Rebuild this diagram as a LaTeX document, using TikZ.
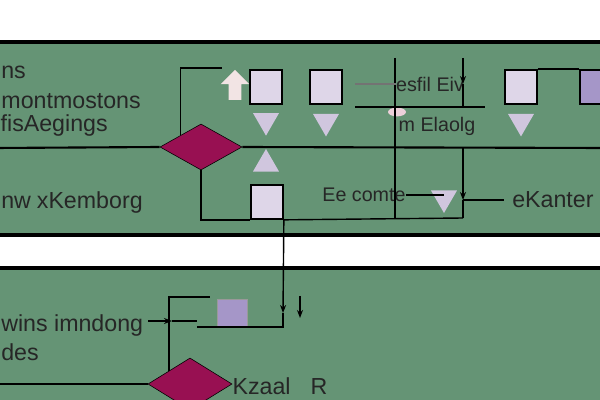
\documentclass[tikz,border=0pt]{standalone}
\usepackage{fontspec}
\setmainfont{Liberation Sans}
\usetikzlibrary{arrows.meta, positioning, shapes.geometric, shapes.arrows}

\definecolor{panelgreen}{RGB}{101,148,117}
\definecolor{gatered}{RGB}{152,16,82}
\definecolor{boxlilac}{RGB}{222,214,232}
\definecolor{boxpurple}{RGB}{165,150,200}
\definecolor{conelilac}{RGB}{208,198,222}
\definecolor{blobpink}{RGB}{236,208,218}

\begin{document}
\begin{tikzpicture}[
    x=0.025cm, y=-0.025cm,
    txt/.style={font=\fontsize{16.5}{19}\selectfont, inner sep=0pt, text=black!85},
    smalltxt/.style={font=\fontsize{14}{17}\selectfont, inner sep=0pt, text=black!85},
    gate/.style={diamond, draw, fill=gatered, minimum width=2.05cm, minimum height=1.15cm, inner sep=0pt},
    box/.style={rectangle, draw, line width=1.2pt, fill=boxlilac, minimum width=0.8cm, minimum height=0.85cm, inner sep=0pt},
    cone/.style={regular polygon, regular polygon sides=3, shape border rotate=180, fill=conelilac, minimum size=0.75cm, inner sep=0pt},
    peak/.style={cone, shape border rotate=0},
    wire/.style={line width=1pt},
    arrow/.style={wire, -{Stealth[length=2mm]}},
    bar/.style={line width=3pt},
]

% Panels
\useasboundingbox (0,0) rectangle (600,400);
\fill[panelgreen] (-5,42) rectangle (605,235);
\fill[panelgreen] (-5,268) rectangle (605,405);
\draw[bar] (-5,42) -- (605,42);
\draw[bar] (-5,235) -- (605,235);
\draw[bar] (-5,268) -- (605,268);

% Nodes
\node[gate] (d1) at (201,147) {};
\node[single arrow, shape border rotate=90, fill=white!75!pink!90!gray, minimum width=0.3cm, minimum height=0.75cm, single arrow head extend=0.2cm, inner sep=0.15cm] (a1) at (235,88) {};
\node[box] (sq1) at (266,87) {};
\node[box] (sq2) at (326,87) {};
\node[box] (sq3) at (521,87) {};
\node[box, fill=boxpurple] (sq4) at (596,87) {};
\node[cone, below=0.2cm of sq1] (cn1) {};
\node[cone, below=0.22cm of sq2] (cn2) {};
\node[cone, below=0.22cm of sq3] (cn3) {};
\node[peak] (pk1) at (266,164) {};
\node[box] (sq5) at (267,202) {};
\node[cone] (cn4) at (444,198) {};
\node[ellipse, fill=blobpink, minimum width=0.45cm, minimum height=0.22cm, inner sep=0pt] (bl1) at (397,112) {};

\node[gate, minimum width=2.1cm, minimum height=1.3cm] (d2) at (190,384) {};
\node[box, fill=boxpurple, draw=black!40, line width=0.6pt, minimum width=0.75cm, minimum height=0.7cm] (sq6) at (232,313) {};

% Texts
\node[txt, anchor=west] (t1) at (1,72) {ns};
\node[txt, anchor=east] (t2) at (141,101) {montmostons};
\node[txt, anchor=east] (t3) at (108,126) {fisAegings};
\node[txt, anchor=west] (t4) at (1,203) {nw\hspace{0.15cm}xKemborg};
\node[smalltxt] (t5) at (430,84) {esfil Eiv};
\node[smalltxt] (t6) at (437,126) {m Elaolg};
\node[smalltxt] (t7) at (364,195) {Ee comte};
\node[txt, anchor=west] (t8) at (512,200) {eKanter};
\node[txt, anchor=west] (t9) at (1,326) {wins imndong};
\node[txt, anchor=west] (t10) at (1,352) {des};
\node[txt] (t11) at (280,386) {Kzaal\hspace{0.5cm}R};

% Coordinates
\coordinate (l0) at (-5,148);
\coordinate (r0) at (605,148);
\coordinate (c1) at (222,68);
\coordinate (v1t) at (395,58);
\coordinate (v1b) at (395,218);
\coordinate (v2t) at (463,58);
\coordinate (v2m) at (463,107);
\coordinate (v2c) at (463,148);
\coordinate (v2b) at (463,218);
\coordinate (h1) at (355,84);
\coordinate (h2a) at (355,107);
\coordinate (h2b) at (485,107);
\coordinate (k1) at (283,313);
\coordinate (k2) at (283,327);
\coordinate (k3) at (197,327);
\coordinate (c4) at (210,297);
\coordinate (c5) at (148,321);
\coordinate (c6) at (172,321);
\coordinate (c7) at (197,321);
\coordinate (c8) at (-5,384);
\coordinate (c9) at (300,296);
\coordinate (c10) at (300,318);

% Arrows
\draw[line width=1.5pt] (l0) -- (d1.west);
\draw[line width=1.5pt] (d1.east) -- (r0);
\draw[wire] (d1.north west) |- (c1);
\draw[wire] (d1.south) |- (sq5.south west);
\draw[wire] (sq5.south east) -- (v2b);
\draw[wire] (v1t) -- (v1b);
\draw[arrow] (v2t) -- (t5.east -| v2t);
\draw[wire] (t5.east -| v2t) -- (v2m);
\draw[wire, black!55] (h1) -- (t5.west);
\draw[wire] (h2a) -- (h2b);
\draw[wire] (sq3.north east) -- (sq4.north west);
\draw[arrow] (v2c) -- (t8.west -| v2c);
\draw[wire] (t8.west -| v2c) -- (v2b);
\draw[wire, shorten >=0.2cm] (t8.west -| v2c) -- (t8.west);
\draw[wire] (t7.east) -- (t7.east -| cn4);
\draw[arrow] (sq5.south east) -- (k1);
\draw[wire] (k1) -- (k2) -- (k3);
\draw[arrow] (c9) -- (c10);

% Lower panel
\draw[wire] (d2.north west) |- (c4);
\draw[arrow] (c5) -- (c6);
\draw[wire] (c6) -- (c7);
\draw[line width=2pt] (c8) -- (d2.west);

\end{tikzpicture}
\end{document}
